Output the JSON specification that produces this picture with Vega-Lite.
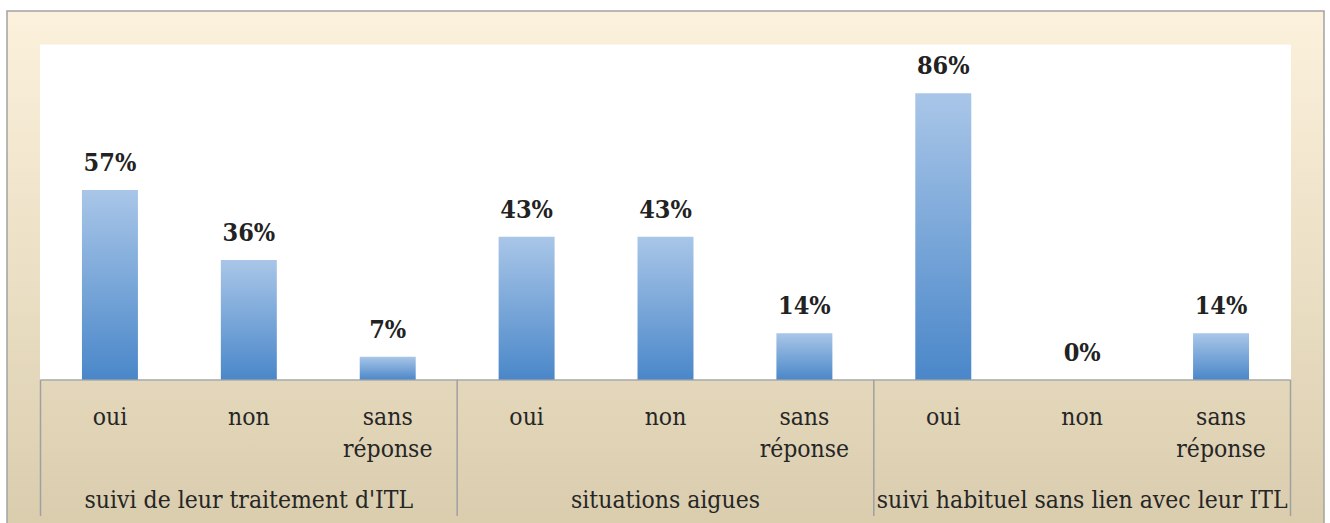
{
  "$schema": "https://vega.github.io/schema/vega-lite/v6.json",
  "width": 1330,
  "height": 523,
  "autosize": {"type": "fit", "contains": "padding"},
  "padding": {"left": 7, "top": 11, "right": 6, "bottom": -3},
  "background": "white",
  "view": {
    "fill": {"gradient": "linear", "x1": 0, "y1": 0, "x2": 0, "y2": 1,
      "stops": [{"offset": 0, "color": "#FCF1DC"}, {"offset": 1, "color": "#DACDAE"}]},
    "stroke": "#A3A3A3",
    "strokeWidth": 1.5
  },
  "datasets": {
    "bars": [
      {"group": "suivi de leur traitement d'ITL", "cat": "oui", "pct": 0.57},
      {"group": "suivi de leur traitement d'ITL", "cat": "non", "pct": 0.36},
      {"group": "suivi de leur traitement d'ITL", "cat": "sans réponse", "pct": 0.07},
      {"group": "situations aigues", "cat": "oui", "pct": 0.43},
      {"group": "situations aigues", "cat": "non", "pct": 0.43},
      {"group": "situations aigues", "cat": "sans réponse", "pct": 0.14},
      {"group": "suivi habituel sans lien avec leur ITL", "cat": "oui", "pct": 0.86},
      {"group": "suivi habituel sans lien avec leur ITL", "cat": "non", "pct": 0.0},
      {"group": "suivi habituel sans lien avec leur ITL", "cat": "sans réponse", "pct": 0.14}
    ],
    "groups": [
      {"group": "suivi de leur traitement d'ITL", "last": false},
      {"group": "situations aigues", "last": false},
      {"group": "suivi habituel sans lien avec leur ITL", "last": true}
    ]
  },
  "layer": [
    {
      "data": {"name": "groups"},
      "mark": {"type": "bar", "color": "white", "stroke": "white", "strokeWidth": 1},
      "encoding": {
        "x": {"field": "group", "type": "nominal", "axis": null,
          "sort": ["suivi de leur traitement d'ITL", "situations aigues", "suivi habituel sans lien avec leur ITL"],
          "scale": {"paddingInner": 0, "paddingOuter": 0.0804}},
        "y": {"datum": 1.005, "type": "quantitative", "axis": null,
          "scale": {"domain": [-0.438, 1.107], "nice": false, "zero": false}},
        "y2": {"datum": 0}
      }
    },
    {
      "data": {"name": "bars"},
      "mark": {"type": "bar",
        "color": {"gradient": "linear", "x1": 0, "y1": 0, "x2": 0, "y2": 1,
          "stops": [{"offset": 0, "color": "#A9C6E8"}, {"offset": 1, "color": "#4A87C9"}]}},
      "encoding": {
        "x": {"field": "group", "type": "nominal", "axis": null,
          "sort": ["suivi de leur traitement d'ITL", "situations aigues", "suivi habituel sans lien avec leur ITL"]},
        "xOffset": {"field": "cat", "type": "nominal", "sort": ["oui", "non", "sans réponse"],
          "scale": {"paddingInner": 0.597, "paddingOuter": 0.2985}},
        "y": {"field": "pct", "type": "quantitative", "axis": null}
      }
    },
    {
      "data": {"name": "bars"},
      "mark": {"type": "text", "font": "DejaVu Serif Condensed, DejaVu Serif", "fontWeight": "bold", "fontSize": 25,
        "color": "#222222", "baseline": "alphabetic", "dy": -19},
      "encoding": {
        "x": {"field": "group", "type": "nominal", "axis": null,
          "sort": ["suivi de leur traitement d'ITL", "situations aigues", "suivi habituel sans lien avec leur ITL"]},
        "xOffset": {"field": "cat", "type": "nominal", "sort": ["oui", "non", "sans réponse"]},
        "y": {"field": "pct", "type": "quantitative", "axis": null},
        "text": {"field": "pct", "type": "quantitative", "format": ".0%"}
      }
    },
    {
      "data": {"name": "groups"},
      "mark": {"type": "tick", "orient": "horizontal", "size": 417, "thickness": 2, "color": "#A0A0A0"},
      "encoding": {
        "x": {"field": "group", "type": "nominal", "axis": null,
          "sort": ["suivi de leur traitement d'ITL", "situations aigues", "suivi habituel sans lien avec leur ITL"]},
        "y": {"datum": 0, "type": "quantitative"}
      }
    },
    {
      "data": {"name": "groups"},
      "mark": {"type": "rule", "color": "#A0A0A0", "strokeWidth": 1.5},
      "encoding": {
        "x": {"field": "group", "type": "nominal", "axis": null, "bandPosition": 0,
          "sort": ["suivi de leur traitement d'ITL", "situations aigues", "suivi habituel sans lien avec leur ITL"]},
        "y": {"datum": 0, "type": "quantitative"},
        "y2": {"datum": -0.408}
      }
    },
    {
      "data": {"name": "groups"},
      "transform": [{"filter": "datum.last"}],
      "mark": {"type": "rule", "color": "#A0A0A0", "strokeWidth": 1.5},
      "encoding": {
        "x": {"field": "group", "type": "nominal", "axis": null, "bandPosition": 1,
          "sort": ["suivi de leur traitement d'ITL", "situations aigues", "suivi habituel sans lien avec leur ITL"]},
        "y": {"datum": 0, "type": "quantitative"},
        "y2": {"datum": -0.408}
      }
    },
    {
      "data": {"name": "bars"},
      "mark": {"type": "text", "font": "DejaVu Serif Condensed, DejaVu Serif", "fontSize": 24.5, "color": "#262626",
        "baseline": "alphabetic", "lineBreak": " ", "lineHeight": 32},
      "encoding": {
        "x": {"field": "group", "type": "nominal", "axis": null,
          "sort": ["suivi de leur traitement d'ITL", "situations aigues", "suivi habituel sans lien avec leur ITL"]},
        "xOffset": {"field": "cat", "type": "nominal", "sort": ["oui", "non", "sans réponse"]},
        "y": {"datum": -0.135, "type": "quantitative"},
        "text": {"field": "cat", "type": "nominal"}
      }
    },
    {
      "data": {"name": "groups"},
      "mark": {"type": "text", "font": "DejaVu Serif Condensed, DejaVu Serif", "fontSize": 24.5, "color": "#262626",
        "baseline": "alphabetic"},
      "encoding": {
        "x": {"field": "group", "type": "nominal", "axis": null,
          "sort": ["suivi de leur traitement d'ITL", "situations aigues", "suivi habituel sans lien avec leur ITL"]},
        "y": {"datum": -0.383, "type": "quantitative"},
        "text": {"field": "group", "type": "nominal"}
      }
    }
  ]
}
